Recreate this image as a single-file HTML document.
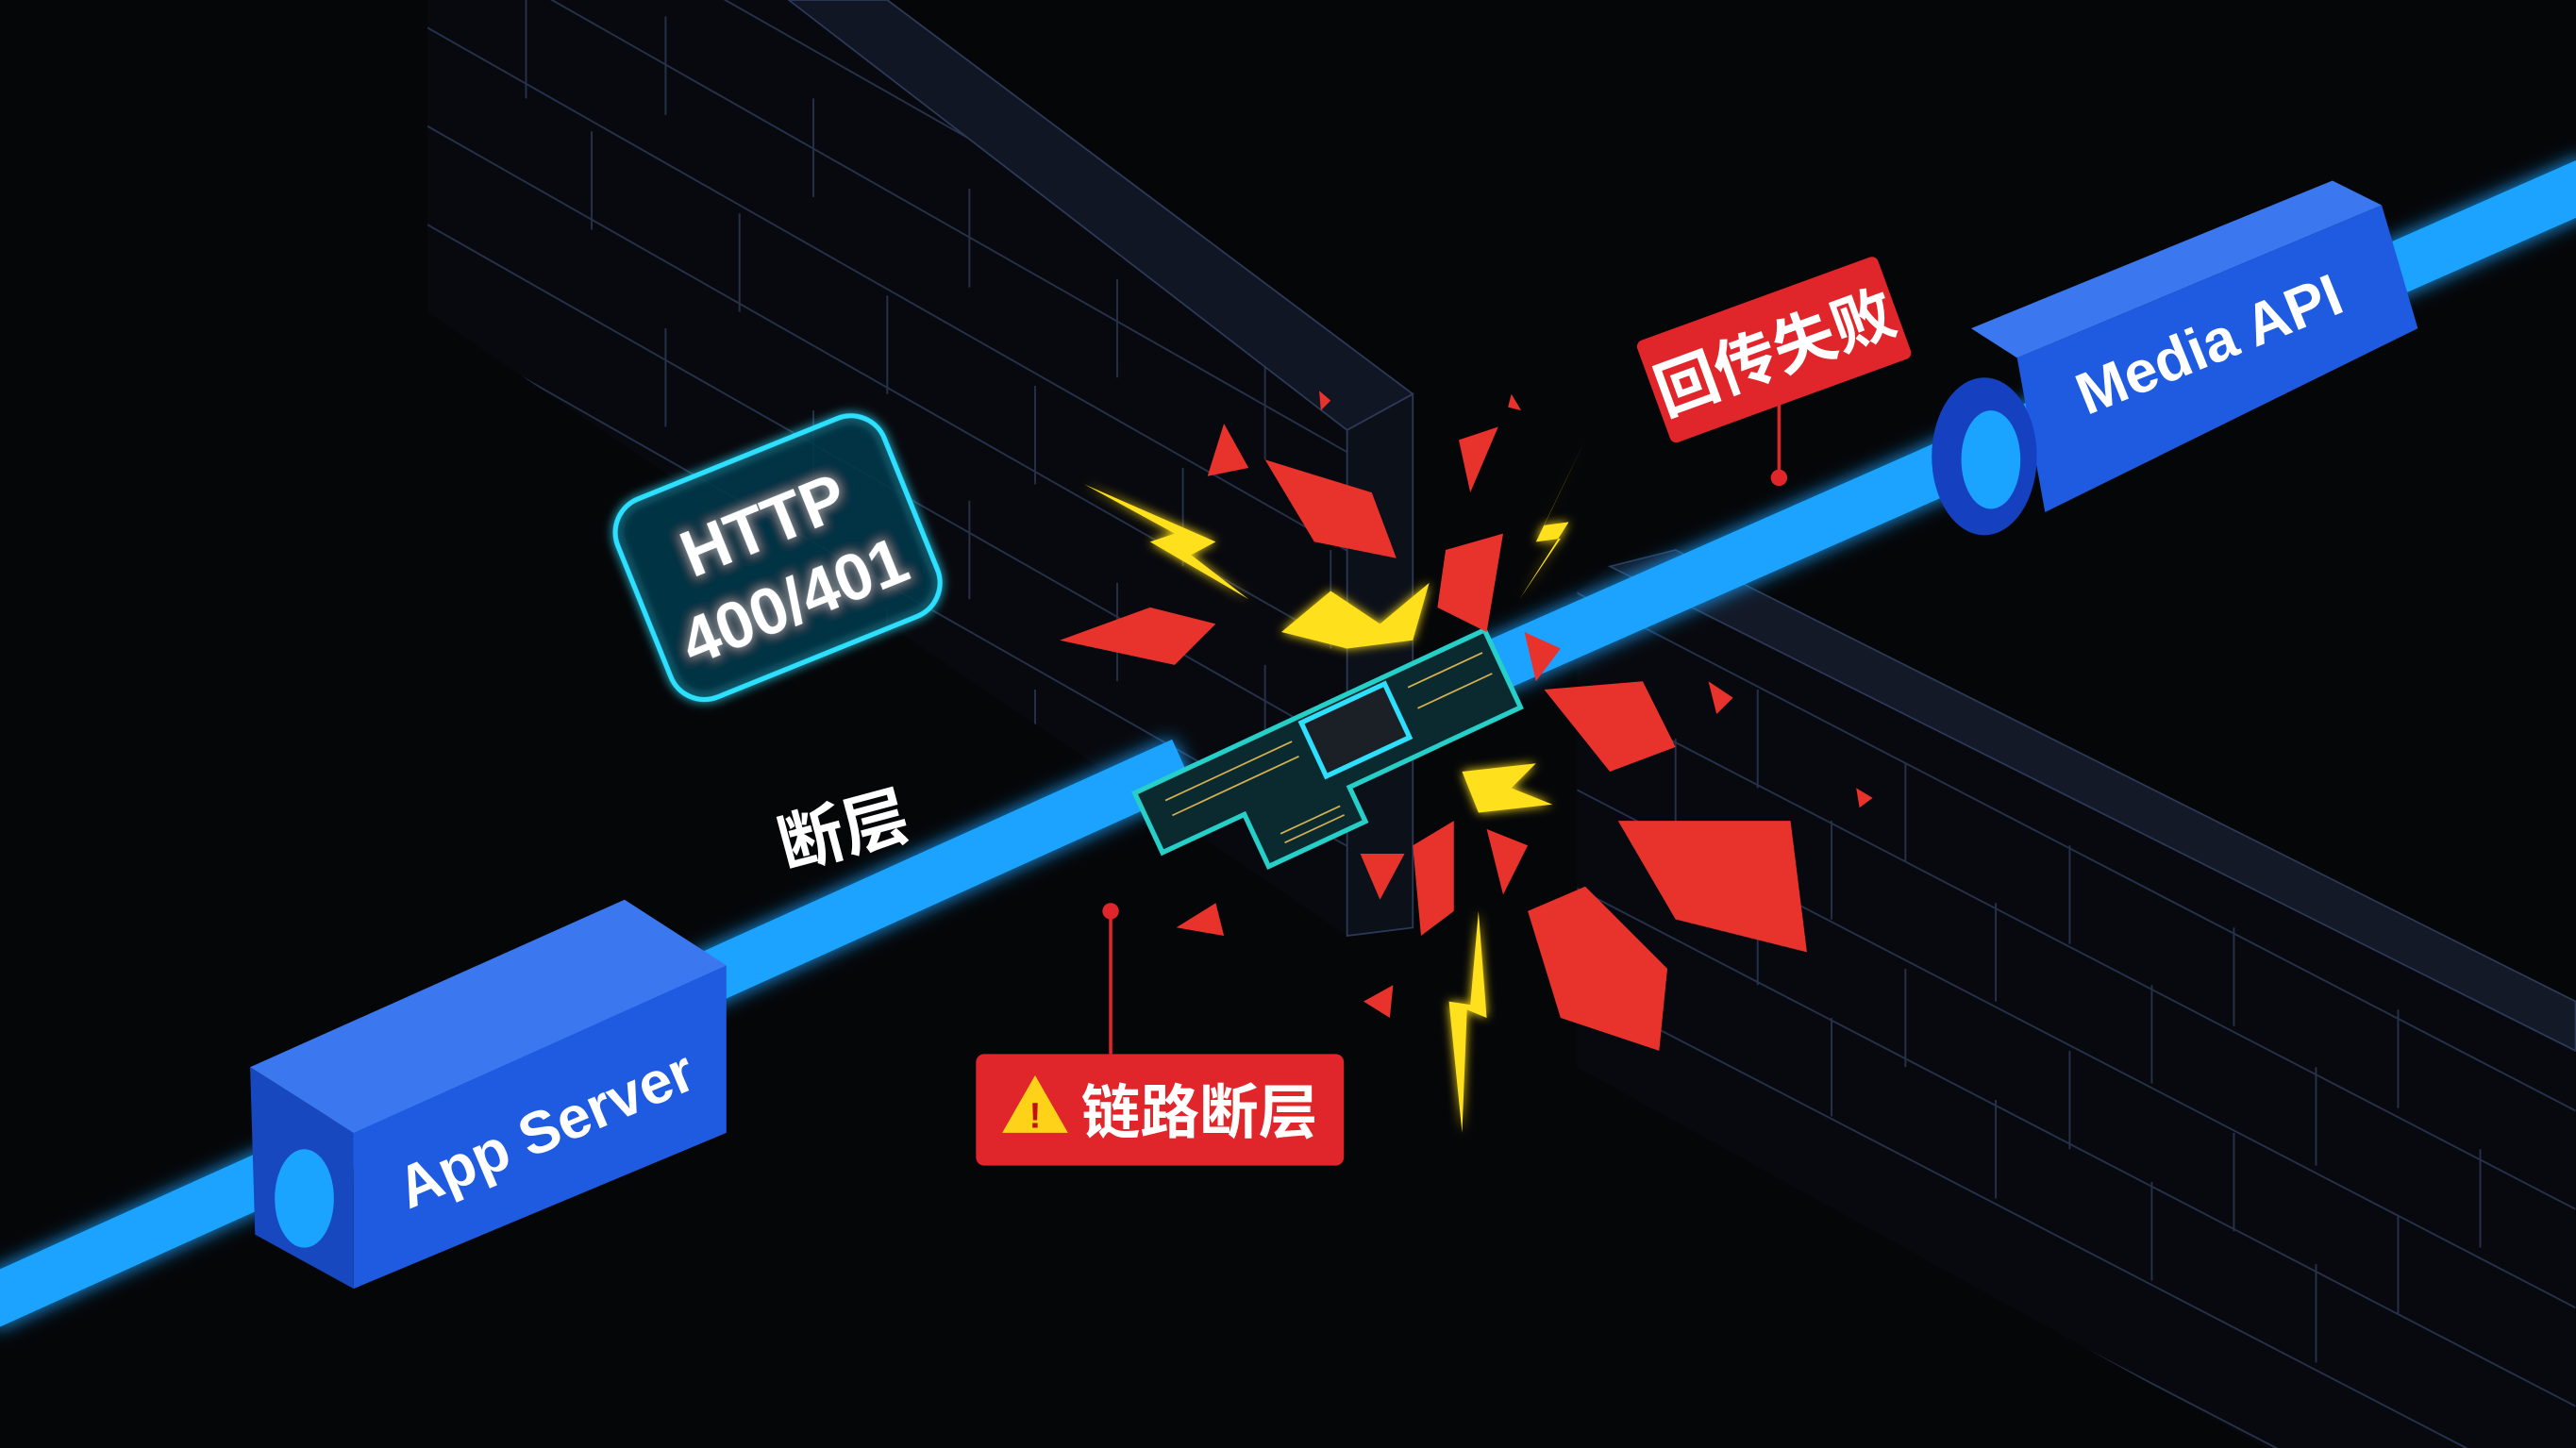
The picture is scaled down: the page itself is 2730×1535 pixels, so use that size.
<!DOCTYPE html>
<html><head><meta charset="utf-8"><style>
html,body{margin:0;padding:0;background:#050608;width:2730px;height:1535px;overflow:hidden;position:relative;}
svg{display:block;position:absolute;left:0;top:0;width:2730px;height:1535px;overflow:hidden;}
text{font-family:"Liberation Sans","Noto Sans CJK SC",sans-serif;font-weight:bold;}
</style></head><body>
<svg width="2730" height="1535" viewBox="0 0 1568 882" xmlns="http://www.w3.org/2000/svg">
<defs>
<filter id="glow" x="-50%" y="-50%" width="200%" height="200%"><feGaussianBlur stdDeviation="6" result="b"/><feMerge><feMergeNode in="b"/><feMergeNode in="SourceGraphic"/></feMerge></filter>
<filter id="glow2" x="-50%" y="-50%" width="200%" height="200%"><feGaussianBlur stdDeviation="3" result="b"/><feMerge><feMergeNode in="b"/><feMergeNode in="SourceGraphic"/></feMerge></filter>
<clipPath id="lw"><polygon points="260,0 480,0 860,240 860,565 820,570 260,190"/></clipPath>
<clipPath id="rw"><polygon points="980,345 1568,640 1568,882 1380,882 960,650 960,360"/></clipPath>
</defs>
<rect width="1568" height="882" fill="#050608"/>
<polygon points="260,0 480,0 860,240 860,565 820,570 260,190" fill="#08090e"/>
<g clip-path="url(#lw)" stroke="#26314a" stroke-width="1.1" fill="none">
<path d="M160,-100 L960,355 M160,-40 L960,415 M160,20 L960,475 M160,80 L960,535 M160,140 L960,595 M160,200 L960,655 M160,-160 L960,295 M160,-220 L960,235"/>
<path d="M320,0v60 M405,10v60 M495,60v60 M590,115v60 M680,170v60 M770,220v60 M360,80v60 M450,130v60 M540,180v60 M630,235v60 M720,285v60 M810,335v60 M405,200v60 M495,250v60 M590,305v60 M680,355v60 M770,405v60 M450,320v60 M540,370v60 M630,420v60 M720,470v60"/>
</g>
<polygon points="480,0 540,0 860,240 820,262" fill="#111624" stroke="#2c3a58"/>
<polygon points="820,262 860,240 860,565 820,570" fill="#0c1019" stroke="#2c3a58"/>
<polygon points="980,345 1568,640 1568,882 1380,882 960,650 960,360" fill="#08090e"/>
<g clip-path="url(#rw)" stroke="#26314a" stroke-width="1.1" fill="none">
<path d="M900,330 L1700,745 M900,390 L1700,805 M900,450 L1700,865 M900,510 L1700,925 M900,570 L1700,985 M900,630 L1700,1045 M900,690 L1700,1105"/>
<path d="M1070,420v60 M1160,465v60 M1260,515v60 M1360,565v60 M1460,615v60 M1020,450v60 M1115,500v60 M1215,550v60 M1310,600v60 M1410,650v60 M1510,700v60 M1070,540v60 M1160,590v60 M1260,640v60 M1360,690v60 M1460,740v60 M1115,620v60 M1215,670v60 M1310,720v60 M1410,770v60"/>
</g>
<polygon points="980,345 1020,335 1568,610 1568,640" fill="#131927" stroke="#2c3a58"/>
<g filter="url(#glow)">
<line x1="-10" y1="795" x2="720" y2="465" stroke="#1aa3ff" stroke-width="32"/>
<line x1="900" y1="410" x2="1580" y2="110" stroke="#1aa3ff" stroke-width="32"/>
</g>
<polygon points="152,650 380,548 442,588 215,690" fill="#3b78f0"/>
<polygon points="215,690 442,588 442,690 215,785" fill="#1f5be0"/>
<polygon points="152,650 215,690 215,785 155,752" fill="#1748c0"/>
<ellipse cx="185" cy="730" rx="18" ry="30" fill="#1aa3ff"/>
<text x="333" y="700" fill="#fff" font-size="36" text-anchor="middle" transform="rotate(-23 333 690)">App Server</text>
<polygon points="1200,200 1420,110 1450,125 1228,218" fill="#3b78f0"/>
<polygon points="1228,218 1450,125 1472,200 1245,312" fill="#1f5be0"/>
<ellipse cx="1208" cy="278" rx="32" ry="48" fill="#1540c0"/>
<ellipse cx="1212" cy="280" rx="18" ry="30" fill="#1aa3ff"/>
<text x="1345" y="222" fill="#fff" font-size="36" text-anchor="middle" transform="rotate(-22 1345 210)">Media API</text>
<g transform="rotate(-22 472 338)" filter="url(#glow2)">
<rect x="385" y="275" width="175" height="130" rx="22" fill="#08384a" fill-opacity="0.7" stroke="#2ee0ff" stroke-width="3"/>
<text x="472" y="332" fill="#fff" font-size="40" text-anchor="middle">HTTP</text>
<text x="472" y="382" fill="#fff" font-size="40" text-anchor="middle">400/401</text>
</g>
<text x="513" y="520" fill="#fff" font-size="40" text-anchor="middle" transform="rotate(-15 513 505)">断层</text>
<g transform="rotate(-25 810 455)">
<polygon points="690,430 925,430 925,482 810,482 810,505 745,505 745,470 690,470" fill="#0a2a30" stroke="#26d0c8" stroke-width="3"/>
<rect x="800" y="434" width="56" height="36" fill="#1a2026" stroke="#2ee0ff" stroke-width="3"/>
<g stroke="#d4b050" stroke-width="1"><path d="M705,442h85 M705,452h85 M868,442h50 M868,456h50 M760,490h40 M760,496h40"/></g>
</g>
<g fill="#e8322c">
<polygon points="735,290 745,258 760,285"/><polygon points="770,280 835,300 850,340 800,330"/>
<polygon points="888,268 912,260 895,300"/><polygon points="880,335 915,325 905,385 875,370"/>
<polygon points="645,390 700,370 740,380 715,405"/><polygon points="928,385 950,395 935,415"/>
<polygon points="940,420 1000,415 1020,455 980,470"/><polygon points="985,500 1090,500 1100,580 1020,560"/>
<polygon points="930,555 965,540 1015,590 1010,640 950,620"/><polygon points="860,515 885,500 885,555 865,570"/>
<polygon points="905,505 930,515 915,545"/><polygon points="828,520 855,520 840,548"/>
<polygon points="716,565 740,550 745,570"/><polygon points="830,610 848,600 846,620"/>
<polygon points="1040,415 1055,425 1045,435"/><polygon points="1130,480 1140,486 1132,492"/>
<polygon points="803,238 810,244 804,250"/><polygon points="920,240 926,250 918,248"/>
</g>
<g fill="#ffe01a" filter="url(#glow2)">
<polygon points="660,295 740,330 725,338 760,365 700,330 715,325"/>
<polygon points="965,268 940,320 955,318 925,365 950,328 935,330"/>
<polygon points="780,385 810,360 840,380 870,355 860,390 820,395"/>
<polygon points="890,470 935,465 920,480 945,490 900,495"/>
<polygon points="900,555 905,620 893,615 890,690 882,610 895,612"/>
</g>
<g transform="rotate(-20 1080 213)">
<rect x="1002" y="180" width="156" height="66" rx="4" fill="#e0262a"/>
<text x="1080" y="228" fill="#fff" font-size="38" text-anchor="middle">回传失败</text>
</g>
<line x1="1083" y1="245" x2="1083" y2="290" stroke="#e0262a" stroke-width="2"/>
<circle cx="1083" cy="291" r="5" fill="#e0262a"/>
<line x1="676" y1="555" x2="676" y2="642" stroke="#e0262a" stroke-width="2"/>
<circle cx="676" cy="555" r="5" fill="#e0262a"/>
<rect x="594" y="642" width="224" height="68" rx="5" fill="#e0262a"/>
<polygon points="630,655 650,690 610,690" fill="#ffd21a"/>
<text x="630" y="687" fill="#c01010" font-size="22" text-anchor="middle">!</text>
<text x="730" y="690" fill="#fff" font-size="36" text-anchor="middle">链路断层</text>
</svg>
</body></html>
